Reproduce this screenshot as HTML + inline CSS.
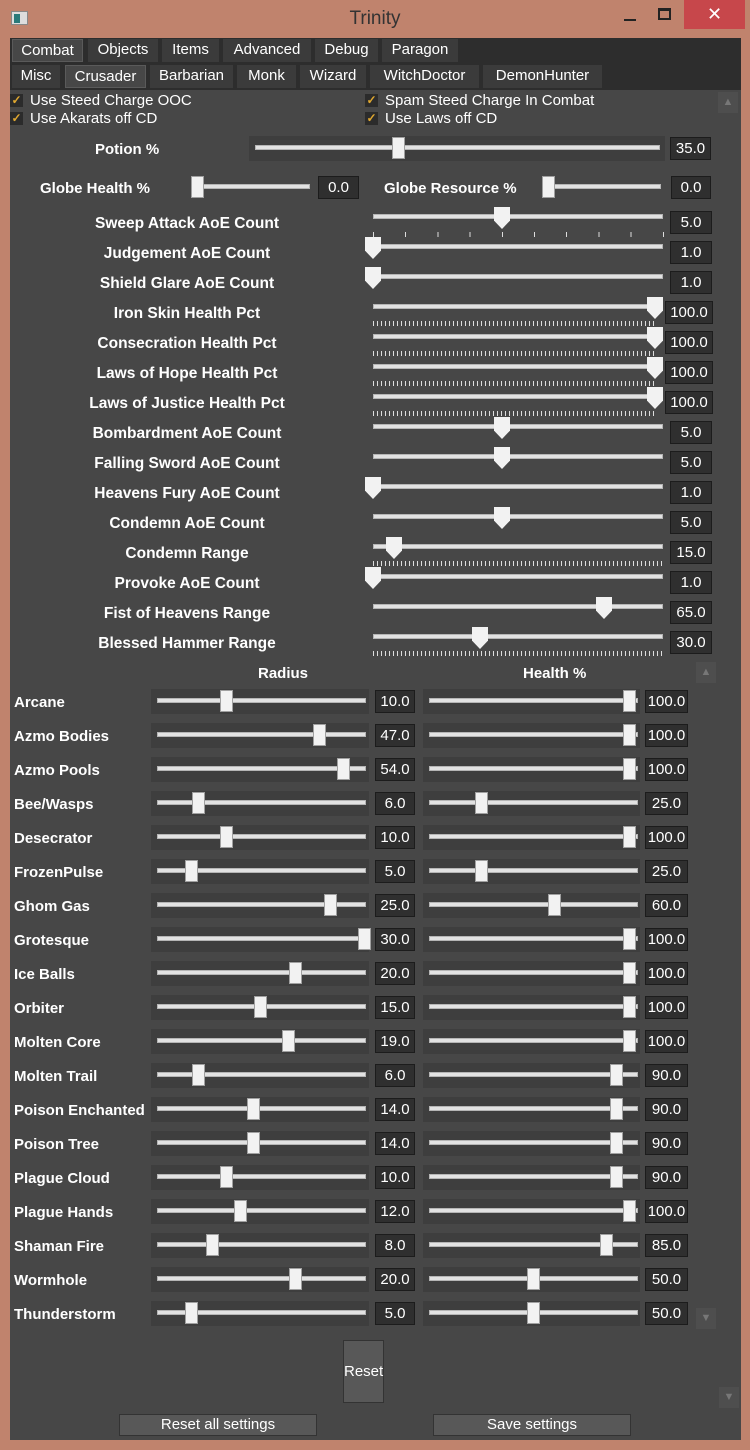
<!DOCTYPE html>
<html><head><meta charset="utf-8"><style>
*{margin:0;padding:0;box-sizing:border-box}
body{width:750px;height:1450px;background:#c0836d;position:relative;overflow:hidden;font-family:"Liberation Sans",sans-serif;color:#fff}
div{position:absolute}
.c{left:10px;top:38px;width:731px;height:1402px;background:#474747}
.tab{height:23px;line-height:22px;font-size:15px;background:#3b3b3b;text-align:center}
.sel{background:#474747;border:1px solid #5a5a5a}
.l{font-size:15px;font-weight:bold;white-space:nowrap;padding-top:2px}
.lc{width:300px;text-align:center;font-size:15.5px}
.t{height:5px;background:#e2e2e2;border:1px solid #b5b5b5}
.th{width:13px;height:22px;background:#f2f2f2;border:1px solid #a0a0a0}
.tp{width:16px;height:22px;background:#f2f2f2;clip-path:polygon(0 0,100% 0,100% 62%,50% 100%,0 62%)}
.v{background:#2f2f2f;border:1px solid #1c1c1c;font-size:15px;text-align:center;height:23px;line-height:21px}
.pn{background:#3e3e3e;height:25px}
.tk{height:5px;background:repeating-linear-gradient(90deg,#ddd 0 1px,transparent 1px 4px)}
.tks{height:5px;background:repeating-linear-gradient(90deg,#ddd 0 1px,transparent 1px 32.2px)}
.ar{width:20px;height:21px;background:#4e4e4e;color:#777;font-size:11px;text-align:center;line-height:21px}
.ck{width:13px;height:13px;background:#2b2b2b;color:#e0a830;font-size:12px;line-height:13px;text-align:center;font-weight:bold}
.cb{font-size:15px}
.btn{background:#585858;border:1px solid #333;font-size:15px;text-align:center}
</style></head><body>
<div style="left:11px;top:11px;width:17px;height:14px;background:#ddd;border:1px solid #888"><div style="left:2px;top:2px;width:6px;height:9px;background:#2a7a7a"></div></div>
<div style="left:0;top:8px;width:750px;text-align:center;font-size:19px;color:#333">Trinity</div>
<div style="left:624px;top:19px;width:12px;height:2px;background:#222"></div>
<div style="left:658px;top:8px;width:13px;height:12px;border:2px solid #222;border-top-width:3px"></div>
<div style="left:684px;top:0;width:61px;height:29px;background:#c7474b;color:#fff;text-align:center;font-size:18px;line-height:29px">✕</div>
<div class="c"></div>
<div style="left:10px;top:38px;width:731px;height:27px;background:#2d2d2d"></div>
<div style="left:10px;top:65px;width:731px;height:25px;background:#2d2d2d"></div>
<div class="tab sel" style="left:12px;top:39px;width:71px">Combat</div>
<div class="tab" style="left:88px;top:39px;width:70px">Objects</div>
<div class="tab" style="left:162px;top:39px;width:57px">Items</div>
<div class="tab" style="left:223px;top:39px;width:88px">Advanced</div>
<div class="tab" style="left:315px;top:39px;width:63px">Debug</div>
<div class="tab" style="left:382px;top:39px;width:76px">Paragon</div>
<div class="tab" style="left:12px;top:65px;width:48px">Misc</div>
<div class="tab sel" style="left:65px;top:65px;width:81px">Crusader</div>
<div class="tab" style="left:150px;top:65px;width:83px">Barbarian</div>
<div class="tab" style="left:237px;top:65px;width:59px">Monk</div>
<div class="tab" style="left:300px;top:65px;width:66px">Wizard</div>
<div class="tab" style="left:370px;top:65px;width:109px">WitchDoctor</div>
<div class="tab" style="left:483px;top:65px;width:119px">DemonHunter</div>

<div class="ck" style="left:10px;top:94px">✓</div><div class="cb" style="left:30px;top:92px">Use Steed Charge OOC</div>
<div class="ck" style="left:10px;top:112px">✓</div><div class="cb" style="left:30px;top:110px">Use Akarats off CD</div>
<div class="ck" style="left:365px;top:94px">✓</div><div class="cb" style="left:385px;top:92px">Spam Steed Charge In Combat</div>
<div class="ck" style="left:365px;top:112px">✓</div><div class="cb" style="left:385px;top:110px">Use Laws off CD</div>
<div class="ar" style="left:718px;top:92px">▲</div>

<div class="l" style="left:95px;top:139px">Potion %</div>
<div class="pn" style="left:249px;top:136px;width:416px"></div>
<div class="t" style="left:255px;top:145px;width:405px"></div>
<div class="th" style="left:392px;top:137px"></div>
<div class="v" style="left:670px;top:137px;width:41px">35.0</div>

<div class="l" style="left:40px;top:178px">Globe Health %</div>
<div class="t" style="left:192px;top:184px;width:118px"></div>
<div class="th" style="left:191px;top:176px"></div>
<div class="v" style="left:318px;top:176px;width:41px">0.0</div>
<div class="l" style="left:384px;top:178px">Globe Resource %</div>
<div class="t" style="left:543px;top:184px;width:118px"></div>
<div class="th" style="left:542px;top:176px"></div>
<div class="v" style="left:671px;top:176px;width:40px">0.0</div>

<div class="l lc" style="left:37px;top:213px">Sweep Attack AoE Count</div><div class="t" style="left:373px;top:214px;width:290px"></div><div class="tks" style="left:373px;top:232px;width:292px"></div><div class="tp" style="left:494px;top:207px"></div><div class="v" style="left:670px;top:211px;width:42px">5.0</div>
<div class="l lc" style="left:37px;top:243px">Judgement AoE Count</div><div class="t" style="left:373px;top:244px;width:290px"></div><div class="tp" style="left:365px;top:237px"></div><div class="v" style="left:670px;top:241px;width:42px">1.0</div>
<div class="l lc" style="left:37px;top:273px">Shield Glare AoE Count</div><div class="t" style="left:373px;top:274px;width:290px"></div><div class="tp" style="left:365px;top:267px"></div><div class="v" style="left:670px;top:271px;width:42px">1.0</div>
<div class="l lc" style="left:37px;top:303px">Iron Skin Health Pct</div><div class="t" style="left:373px;top:304px;width:290px"></div><div class="tk" style="left:373px;top:321px;width:283px"></div><div class="tp" style="left:647px;top:297px"></div><div class="v" style="left:665px;top:301px;width:48px">100.0</div>
<div class="l lc" style="left:37px;top:333px">Consecration Health Pct</div><div class="t" style="left:373px;top:334px;width:290px"></div><div class="tk" style="left:373px;top:351px;width:283px"></div><div class="tp" style="left:647px;top:327px"></div><div class="v" style="left:665px;top:331px;width:48px">100.0</div>
<div class="l lc" style="left:37px;top:363px">Laws of Hope Health Pct</div><div class="t" style="left:373px;top:364px;width:290px"></div><div class="tk" style="left:373px;top:381px;width:283px"></div><div class="tp" style="left:647px;top:357px"></div><div class="v" style="left:665px;top:361px;width:48px">100.0</div>
<div class="l lc" style="left:37px;top:393px">Laws of Justice Health Pct</div><div class="t" style="left:373px;top:394px;width:290px"></div><div class="tk" style="left:373px;top:411px;width:283px"></div><div class="tp" style="left:647px;top:387px"></div><div class="v" style="left:665px;top:391px;width:48px">100.0</div>
<div class="l lc" style="left:37px;top:423px">Bombardment AoE Count</div><div class="t" style="left:373px;top:424px;width:290px"></div><div class="tp" style="left:494px;top:417px"></div><div class="v" style="left:670px;top:421px;width:42px">5.0</div>
<div class="l lc" style="left:37px;top:453px">Falling Sword AoE Count</div><div class="t" style="left:373px;top:454px;width:290px"></div><div class="tp" style="left:494px;top:447px"></div><div class="v" style="left:670px;top:451px;width:42px">5.0</div>
<div class="l lc" style="left:37px;top:483px">Heavens Fury AoE Count</div><div class="t" style="left:373px;top:484px;width:290px"></div><div class="tp" style="left:365px;top:477px"></div><div class="v" style="left:670px;top:481px;width:42px">1.0</div>
<div class="l lc" style="left:37px;top:513px">Condemn AoE Count</div><div class="t" style="left:373px;top:514px;width:290px"></div><div class="tp" style="left:494px;top:507px"></div><div class="v" style="left:670px;top:511px;width:42px">5.0</div>
<div class="l lc" style="left:37px;top:543px">Condemn Range</div><div class="t" style="left:373px;top:544px;width:290px"></div><div class="tk" style="left:373px;top:561px;width:290px"></div><div class="tp" style="left:386px;top:537px"></div><div class="v" style="left:670px;top:541px;width:42px">15.0</div>
<div class="l lc" style="left:37px;top:573px">Provoke AoE Count</div><div class="t" style="left:373px;top:574px;width:290px"></div><div class="tp" style="left:365px;top:567px"></div><div class="v" style="left:670px;top:571px;width:42px">1.0</div>
<div class="l lc" style="left:37px;top:603px">Fist of Heavens Range</div><div class="t" style="left:373px;top:604px;width:290px"></div><div class="tp" style="left:596px;top:597px"></div><div class="v" style="left:670px;top:601px;width:42px">65.0</div>
<div class="l lc" style="left:37px;top:633px">Blessed Hammer Range</div><div class="t" style="left:373px;top:634px;width:290px"></div><div class="tk" style="left:373px;top:651px;width:290px"></div><div class="tp" style="left:472px;top:627px"></div><div class="v" style="left:670px;top:631px;width:42px">30.0</div>

<div class="l" style="left:258px;top:663px">Radius</div>
<div class="l" style="left:523px;top:663px">Health %</div>
<div class="ar" style="left:696px;top:662px">▲</div>

<div class="l" style="left:14px;top:692px">Arcane</div><div class="pn" style="left:151px;top:689px;width:218px"></div><div class="t" style="left:157px;top:698px;width:209px"></div><div class="th" style="left:220px;top:690px"></div><div class="v" style="left:375px;top:690px;width:40px">10.0</div><div class="pn" style="left:423px;top:689px;width:217px"></div><div class="t" style="left:429px;top:698px;width:209px"></div><div class="th" style="left:623px;top:690px"></div><div class="v" style="left:645px;top:690px;width:43px">100.0</div>
<div class="l" style="left:14px;top:726px">Azmo Bodies</div><div class="pn" style="left:151px;top:723px;width:218px"></div><div class="t" style="left:157px;top:732px;width:209px"></div><div class="th" style="left:313px;top:724px"></div><div class="v" style="left:375px;top:724px;width:40px">47.0</div><div class="pn" style="left:423px;top:723px;width:217px"></div><div class="t" style="left:429px;top:732px;width:209px"></div><div class="th" style="left:623px;top:724px"></div><div class="v" style="left:645px;top:724px;width:43px">100.0</div>
<div class="l" style="left:14px;top:760px">Azmo Pools</div><div class="pn" style="left:151px;top:757px;width:218px"></div><div class="t" style="left:157px;top:766px;width:209px"></div><div class="th" style="left:337px;top:758px"></div><div class="v" style="left:375px;top:758px;width:40px">54.0</div><div class="pn" style="left:423px;top:757px;width:217px"></div><div class="t" style="left:429px;top:766px;width:209px"></div><div class="th" style="left:623px;top:758px"></div><div class="v" style="left:645px;top:758px;width:43px">100.0</div>
<div class="l" style="left:14px;top:794px">Bee/Wasps</div><div class="pn" style="left:151px;top:791px;width:218px"></div><div class="t" style="left:157px;top:800px;width:209px"></div><div class="th" style="left:192px;top:792px"></div><div class="v" style="left:375px;top:792px;width:40px">6.0</div><div class="pn" style="left:423px;top:791px;width:217px"></div><div class="t" style="left:429px;top:800px;width:209px"></div><div class="th" style="left:475px;top:792px"></div><div class="v" style="left:645px;top:792px;width:43px">25.0</div>
<div class="l" style="left:14px;top:828px">Desecrator</div><div class="pn" style="left:151px;top:825px;width:218px"></div><div class="t" style="left:157px;top:834px;width:209px"></div><div class="th" style="left:220px;top:826px"></div><div class="v" style="left:375px;top:826px;width:40px">10.0</div><div class="pn" style="left:423px;top:825px;width:217px"></div><div class="t" style="left:429px;top:834px;width:209px"></div><div class="th" style="left:623px;top:826px"></div><div class="v" style="left:645px;top:826px;width:43px">100.0</div>
<div class="l" style="left:14px;top:862px">FrozenPulse</div><div class="pn" style="left:151px;top:859px;width:218px"></div><div class="t" style="left:157px;top:868px;width:209px"></div><div class="th" style="left:185px;top:860px"></div><div class="v" style="left:375px;top:860px;width:40px">5.0</div><div class="pn" style="left:423px;top:859px;width:217px"></div><div class="t" style="left:429px;top:868px;width:209px"></div><div class="th" style="left:475px;top:860px"></div><div class="v" style="left:645px;top:860px;width:43px">25.0</div>
<div class="l" style="left:14px;top:896px">Ghom Gas</div><div class="pn" style="left:151px;top:893px;width:218px"></div><div class="t" style="left:157px;top:902px;width:209px"></div><div class="th" style="left:324px;top:894px"></div><div class="v" style="left:375px;top:894px;width:40px">25.0</div><div class="pn" style="left:423px;top:893px;width:217px"></div><div class="t" style="left:429px;top:902px;width:209px"></div><div class="th" style="left:548px;top:894px"></div><div class="v" style="left:645px;top:894px;width:43px">60.0</div>
<div class="l" style="left:14px;top:930px">Grotesque</div><div class="pn" style="left:151px;top:927px;width:218px"></div><div class="t" style="left:157px;top:936px;width:209px"></div><div class="th" style="left:358px;top:928px"></div><div class="v" style="left:375px;top:928px;width:40px">30.0</div><div class="pn" style="left:423px;top:927px;width:217px"></div><div class="t" style="left:429px;top:936px;width:209px"></div><div class="th" style="left:623px;top:928px"></div><div class="v" style="left:645px;top:928px;width:43px">100.0</div>
<div class="l" style="left:14px;top:964px">Ice Balls</div><div class="pn" style="left:151px;top:961px;width:218px"></div><div class="t" style="left:157px;top:970px;width:209px"></div><div class="th" style="left:289px;top:962px"></div><div class="v" style="left:375px;top:962px;width:40px">20.0</div><div class="pn" style="left:423px;top:961px;width:217px"></div><div class="t" style="left:429px;top:970px;width:209px"></div><div class="th" style="left:623px;top:962px"></div><div class="v" style="left:645px;top:962px;width:43px">100.0</div>
<div class="l" style="left:14px;top:998px">Orbiter</div><div class="pn" style="left:151px;top:995px;width:218px"></div><div class="t" style="left:157px;top:1004px;width:209px"></div><div class="th" style="left:254px;top:996px"></div><div class="v" style="left:375px;top:996px;width:40px">15.0</div><div class="pn" style="left:423px;top:995px;width:217px"></div><div class="t" style="left:429px;top:1004px;width:209px"></div><div class="th" style="left:623px;top:996px"></div><div class="v" style="left:645px;top:996px;width:43px">100.0</div>
<div class="l" style="left:14px;top:1032px">Molten Core</div><div class="pn" style="left:151px;top:1029px;width:218px"></div><div class="t" style="left:157px;top:1038px;width:209px"></div><div class="th" style="left:282px;top:1030px"></div><div class="v" style="left:375px;top:1030px;width:40px">19.0</div><div class="pn" style="left:423px;top:1029px;width:217px"></div><div class="t" style="left:429px;top:1038px;width:209px"></div><div class="th" style="left:623px;top:1030px"></div><div class="v" style="left:645px;top:1030px;width:43px">100.0</div>
<div class="l" style="left:14px;top:1066px">Molten Trail</div><div class="pn" style="left:151px;top:1063px;width:218px"></div><div class="t" style="left:157px;top:1072px;width:209px"></div><div class="th" style="left:192px;top:1064px"></div><div class="v" style="left:375px;top:1064px;width:40px">6.0</div><div class="pn" style="left:423px;top:1063px;width:217px"></div><div class="t" style="left:429px;top:1072px;width:209px"></div><div class="th" style="left:610px;top:1064px"></div><div class="v" style="left:645px;top:1064px;width:43px">90.0</div>
<div class="l" style="left:14px;top:1100px">Poison Enchanted</div><div class="pn" style="left:151px;top:1097px;width:218px"></div><div class="t" style="left:157px;top:1106px;width:209px"></div><div class="th" style="left:247px;top:1098px"></div><div class="v" style="left:375px;top:1098px;width:40px">14.0</div><div class="pn" style="left:423px;top:1097px;width:217px"></div><div class="t" style="left:429px;top:1106px;width:209px"></div><div class="th" style="left:610px;top:1098px"></div><div class="v" style="left:645px;top:1098px;width:43px">90.0</div>
<div class="l" style="left:14px;top:1134px">Poison Tree</div><div class="pn" style="left:151px;top:1131px;width:218px"></div><div class="t" style="left:157px;top:1140px;width:209px"></div><div class="th" style="left:247px;top:1132px"></div><div class="v" style="left:375px;top:1132px;width:40px">14.0</div><div class="pn" style="left:423px;top:1131px;width:217px"></div><div class="t" style="left:429px;top:1140px;width:209px"></div><div class="th" style="left:610px;top:1132px"></div><div class="v" style="left:645px;top:1132px;width:43px">90.0</div>
<div class="l" style="left:14px;top:1168px">Plague Cloud</div><div class="pn" style="left:151px;top:1165px;width:218px"></div><div class="t" style="left:157px;top:1174px;width:209px"></div><div class="th" style="left:220px;top:1166px"></div><div class="v" style="left:375px;top:1166px;width:40px">10.0</div><div class="pn" style="left:423px;top:1165px;width:217px"></div><div class="t" style="left:429px;top:1174px;width:209px"></div><div class="th" style="left:610px;top:1166px"></div><div class="v" style="left:645px;top:1166px;width:43px">90.0</div>
<div class="l" style="left:14px;top:1202px">Plague Hands</div><div class="pn" style="left:151px;top:1199px;width:218px"></div><div class="t" style="left:157px;top:1208px;width:209px"></div><div class="th" style="left:234px;top:1200px"></div><div class="v" style="left:375px;top:1200px;width:40px">12.0</div><div class="pn" style="left:423px;top:1199px;width:217px"></div><div class="t" style="left:429px;top:1208px;width:209px"></div><div class="th" style="left:623px;top:1200px"></div><div class="v" style="left:645px;top:1200px;width:43px">100.0</div>
<div class="l" style="left:14px;top:1236px">Shaman Fire</div><div class="pn" style="left:151px;top:1233px;width:218px"></div><div class="t" style="left:157px;top:1242px;width:209px"></div><div class="th" style="left:206px;top:1234px"></div><div class="v" style="left:375px;top:1234px;width:40px">8.0</div><div class="pn" style="left:423px;top:1233px;width:217px"></div><div class="t" style="left:429px;top:1242px;width:209px"></div><div class="th" style="left:600px;top:1234px"></div><div class="v" style="left:645px;top:1234px;width:43px">85.0</div>
<div class="l" style="left:14px;top:1270px">Wormhole</div><div class="pn" style="left:151px;top:1267px;width:218px"></div><div class="t" style="left:157px;top:1276px;width:209px"></div><div class="th" style="left:289px;top:1268px"></div><div class="v" style="left:375px;top:1268px;width:40px">20.0</div><div class="pn" style="left:423px;top:1267px;width:217px"></div><div class="t" style="left:429px;top:1276px;width:209px"></div><div class="th" style="left:527px;top:1268px"></div><div class="v" style="left:645px;top:1268px;width:43px">50.0</div>
<div class="l" style="left:14px;top:1304px">Thunderstorm</div><div class="pn" style="left:151px;top:1301px;width:218px"></div><div class="t" style="left:157px;top:1310px;width:209px"></div><div class="th" style="left:185px;top:1302px"></div><div class="v" style="left:375px;top:1302px;width:40px">5.0</div><div class="pn" style="left:423px;top:1301px;width:217px"></div><div class="t" style="left:429px;top:1310px;width:209px"></div><div class="th" style="left:527px;top:1302px"></div><div class="v" style="left:645px;top:1302px;width:43px">50.0</div>

<div class="ar" style="left:696px;top:1308px">▼</div>
<div class="btn" style="left:343px;top:1340px;width:41px;height:63px;line-height:61px">Reset</div>
<div class="ar" style="left:719px;top:1387px">▼</div>
<div class="btn" style="left:119px;top:1414px;width:198px;height:22px;line-height:20px">Reset all settings</div>
<div class="btn" style="left:433px;top:1414px;width:198px;height:22px;line-height:20px">Save settings</div>
</body></html>
